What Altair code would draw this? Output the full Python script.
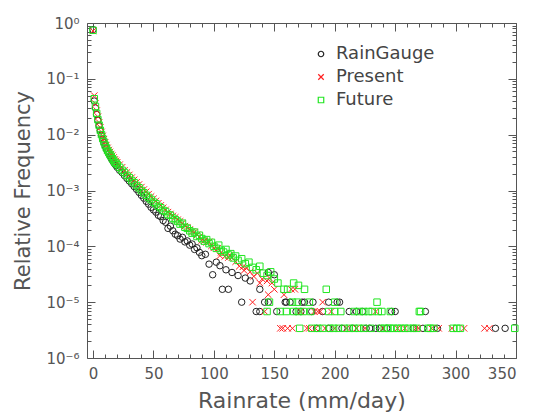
import altair as alt
import pandas as pd

# ---------------- data ----------------
gauge_rain = [0, 1, 2, 3, 4, 5, 6, 7, 8, 9, 10, 11, 12, 13, 14, 15, 16, 17, 18, 19, 20,
              22, 24, 26, 28, 30, 32, 34, 36, 38, 40, 42, 44, 46, 48, 50, 52, 54, 56, 58,
              60, 62, 64, 66, 68, 70, 72, 74, 76, 78, 80, 82, 84, 86, 88, 90, 93, 96, 99,
              102, 105, 107, 110, 112, 115, 120, 123, 126, 130, 135, 138, 138, 142, 145,
              145, 150, 152, 159, 160, 163, 168, 172, 173, 175, 181, 182, 185, 190, 195,
              195, 202, 204, 206, 212, 215, 218, 223, 226, 229, 234, 237, 243, 247, 250,
              265, 273, 275, 285, 333, 341]
gauge_freq = [0.76, 0.040, 0.030, 0.023, 0.0182, 0.0145, 0.0118, 0.0098, 0.0083, 0.0072,
              0.0063, 0.0056, 0.0050, 0.0046, 0.0042, 0.0038, 0.0035, 0.0032, 0.0030, 0.0028,
              0.0026, 0.0023, 0.0021, 0.00185, 0.00165, 0.00148, 0.00132, 0.00118, 0.00105,
              0.00093, 0.00082, 0.00073, 0.00064, 0.00057, 0.00050, 0.00045, 0.00041, 0.00036,
              0.00034, 0.00029, 0.00027, 0.00021, 0.00023, 0.00019, 0.000165, 0.000155,
              0.000135, 0.000145, 0.000120, 0.000125, 0.000105, 0.000110, 0.000088, 0.000094,
              0.000078, 0.000068, 0.000072, 0.000048, 3.1e-5, 5.2e-5, 4.5e-5, 1.7e-5, 3.8e-5,
              1.7e-5, 3.4e-5, 3.0e-5, 1.0e-5, 2.7e-5, 2.4e-5, 6.8e-6, 6.8e-6, 1.7e-5, 1.0e-5,
              1.0e-5, 3.4e-5, 3.1e-5, 6.8e-6, 1.0e-5, 1.0e-5, 1.0e-5, 6.8e-6, 6.8e-6, 1.0e-5,
              1.0e-5, 6.8e-6, 1.0e-5, 3.4e-6, 6.8e-6, 1.0e-5, 3.4e-6, 1.0e-5, 1.0e-5, 3.4e-6,
              6.8e-6, 3.4e-6, 6.8e-6, 6.8e-6, 3.4e-6, 3.4e-6, 3.4e-6, 3.4e-6, 3.4e-6, 6.8e-6,
              6.8e-6, 3.4e-6, 3.4e-6, 6.8e-6, 3.4e-6, 3.4e-6, 3.4e-6]

present_rain = [0, 1, 2, 3, 4, 5, 6, 7, 8, 9, 10, 11, 12, 13, 14, 15, 16, 17, 18, 19, 20,
                22, 24, 26, 28, 30, 32, 34, 36, 38, 40, 42, 44, 46, 48, 50, 52, 54, 56, 58,
                60, 62, 64, 66, 68, 70, 72, 74, 76, 78, 80, 82, 84, 86, 88, 90, 92, 94, 96,
                98, 100, 103, 105, 106, 109, 112, 113, 115, 118, 121, 124, 125, 127, 130,
                133, 136, 138, 140, 144, 146, 148,
                150, 164, 167, 145, 158, 132, 190, 142, 172, 183, 186, 188, 197, 234,
                155, 157, 161, 165, 177, 179, 184, 192, 200, 210, 218, 225, 240, 252, 258,
                267, 269, 280, 286, 297, 307, 324, 328]
present_freq = [0.72, 0.050, 0.036, 0.027, 0.021, 0.0165, 0.0135, 0.0112, 0.0095, 0.0083,
                0.0073, 0.0065, 0.0058, 0.0053, 0.0049, 0.0045, 0.0042, 0.0039, 0.0036, 0.0034,
                0.0032, 0.0029, 0.0026, 0.0023, 0.0021, 0.0019, 0.0017, 0.00155, 0.00140,
                0.00128, 0.00115, 0.00104, 0.00095, 0.00086, 0.00078, 0.00071, 0.00065,
                0.00059, 0.00054, 0.00049, 0.00045, 0.00041, 0.00038, 0.00035, 0.00033,
                0.00030, 0.00028, 0.00026, 0.00023, 0.00022, 0.00020, 0.000185, 0.000180,
                0.000160, 0.000148, 0.000128, 0.000126, 0.000118, 0.000120, 0.000102, 9.4e-5,
                9.2e-5, 6.8e-5, 7.8e-5, 6.6e-5, 6.3e-5, 7.0e-5, 6.3e-5, 5.3e-5, 4.4e-5, 4.3e-5,
                3.7e-5, 4.1e-5, 3.5e-5, 2.9e-5, 3.3e-5, 2.2e-5, 2.6e-5, 2.4e-5, 2.7e-5, 2.2e-5,
                1.7e-5, 1.7e-5, 1.7e-5, 1.36e-5, 1.36e-5, 1.0e-5, 1.0e-5, 6.8e-6, 6.8e-6,
                6.8e-6, 6.8e-6, 6.8e-6, 6.8e-6, 6.8e-6,
                3.4e-6, 3.4e-6, 3.4e-6, 3.4e-6, 3.4e-6, 3.4e-6, 3.4e-6, 3.4e-6, 3.4e-6, 3.4e-6,
                3.4e-6, 3.4e-6, 3.4e-6, 3.4e-6, 3.4e-6, 3.4e-6, 3.4e-6, 3.4e-6, 3.4e-6, 3.4e-6,
                3.4e-6, 3.4e-6, 3.4e-6]

future_rain = [0, 1, 2, 3, 4, 5, 6, 7, 8, 9, 10, 11, 12, 13, 14, 15, 16, 17, 18, 19, 20,
               22, 24, 26, 28, 30, 32, 34, 36, 38, 40, 42, 44, 46, 48, 50, 52, 54, 56, 58,
               60, 62, 64, 66, 68, 70, 72, 74, 76, 78, 80, 82, 84, 86, 88, 90, 92, 94, 96,
               98, 100, 102, 104, 106, 108, 110, 112, 114, 116, 118, 120, 123, 126, 129,
               132, 135, 138, 141, 144, 147, 150, 153,
               158, 161, 175, 193, 166, 170, 146, 165, 169, 179, 200, 235,
               144, 155, 160, 166, 170, 174, 180, 195, 200, 205, 216, 220, 224, 228, 231,
               236, 239, 246, 270, 271,
               171, 181, 186, 190, 196, 199, 203, 208, 212, 216, 220, 224, 230, 238, 241,
               244, 246, 249, 252, 255, 258, 261, 265, 268, 277, 279, 282, 298, 301, 304, 349]
future_freq = [0.74, 0.044, 0.032, 0.024, 0.0186, 0.0148, 0.0120, 0.0100, 0.0085, 0.0074,
               0.0065, 0.0058, 0.0052, 0.0048, 0.0044, 0.0041, 0.0037, 0.0035, 0.0032, 0.0031,
               0.0029, 0.0026, 0.0023, 0.0021, 0.00186, 0.0017, 0.00151, 0.00138, 0.00123,
               0.00112, 0.00100, 0.00091, 0.00082, 0.00075, 0.00069, 0.00062, 0.00058,
               0.00052, 0.00049, 0.00044, 0.00042, 0.00037, 0.00036, 0.00032, 0.00030,
               0.00028, 0.00025, 0.00026, 0.00022, 0.00021, 0.000190, 0.000172, 0.000180,
               0.000150, 0.000158, 0.000138, 0.000124, 0.000132, 0.000112, 0.000118, 1.0e-4,
               9.2e-5, 1.05e-4, 8.5e-5, 7.9e-5, 8.8e-5, 7.0e-5, 7.4e-5, 6.2e-5, 6.7e-5, 5.6e-5,
               6.0e-5, 4.9e-5, 5.2e-5, 4.2e-5, 3.8e-5, 4.4e-5, 3.3e-5, 3.0e-5, 3.5e-5, 2.6e-5,
               2.2e-5,
               1.7e-5, 1.7e-5, 1.7e-5, 1.7e-5, 2.2e-5, 2.0e-5, 1.0e-5, 1.0e-5, 1.0e-5, 1.0e-5,
               1.0e-5, 1.0e-5,
               6.8e-6, 6.8e-6, 6.8e-6, 6.8e-6, 6.8e-6, 6.8e-6, 6.8e-6, 6.8e-6, 6.8e-6, 6.8e-6,
               6.8e-6, 6.8e-6, 6.8e-6, 6.8e-6, 6.8e-6, 6.8e-6, 6.8e-6, 6.8e-6, 6.8e-6, 6.8e-6,
               3.4e-6, 3.4e-6, 3.4e-6, 3.4e-6, 3.4e-6, 3.4e-6, 3.4e-6, 3.4e-6, 3.4e-6, 3.4e-6,
               3.4e-6, 3.4e-6, 3.4e-6, 3.4e-6, 3.4e-6, 3.4e-6, 3.4e-6, 3.4e-6, 3.4e-6, 3.4e-6,
               3.4e-6, 3.4e-6, 3.4e-6, 3.4e-6, 3.4e-6, 3.4e-6, 3.4e-6, 3.4e-6, 3.4e-6, 3.4e-6,
               3.4e-6]

series_names = ["RainGauge", "Present", "Future"]
series_colors = ["#222222", "#ff2020", "#22e622"]
series_shapes = ["circle", "M-1,-1L1,1M-1,1L1,-1", "square"]

x_major = [0, 50, 100, 150, 200, 250, 300, 350]
x_minor = [10, 20, 30, 40, 60, 70, 80, 90, 110, 120, 130, 140, 160, 170, 180, 190,
           210, 220, 230, 240, 260, 270, 280, 290, 310, 320, 330, 340]
y_major = [1e-6, 1e-5, 1e-4, 1e-3, 1e-2, 1e-1, 1.0]
y_minor = [m * d for d in [1e-6, 1e-5, 1e-4, 1e-3, 1e-2, 1e-1] for m in range(2, 10)]

# ---------------- build table ----------------
frames = []
for name, r, f in [("RainGauge", gauge_rain, gauge_freq),
                   ("Present", present_rain, present_freq),
                   ("Future", future_rain, future_freq)]:
    frames.append(pd.DataFrame({"rain": r, "freq": f, "series": name}))
df = pd.concat(frames, ignore_index=True)

FONT = "DejaVu Sans"
GRAY = "#555555"

xs = alt.Scale(domain=[-5, 350], nice=False, zero=False)
ys = alt.Scale(type="log", domain=[1e-6, 1], nice=False)

sup = "['\u2070','\u207b\u00b9','\u207b\u00b2','\u207b\u00b3','\u207b\u2074','\u207b\u2075','\u207b\u2076']"
y_label_expr = "'10' + " + sup + "[round(-log(datum.value)/LN10)]"


def ax(orient, values, size, labels=False, title=None, **kw):
    return alt.Axis(orient=orient, values=values, tickSize=size, offset=-size,
                    domain=False, grid=False, labels=labels, title=title,
                    tickColor=GRAY, tickWidth=1, **kw)


legend = alt.Legend(title=None, orient="none", legendX=225, legendY=22,
                    labelFontSize=18, labelFont=FONT, labelColor="#444444",
                    symbolSize=30, symbolStrokeWidth=1.2, rowPadding=5,
                    labelOffset=6)

points = alt.Chart(df).mark_point(filled=False, size=42, strokeWidth=1, opacity=1).encode(
    x=alt.X("rain:Q", scale=xs,
            axis=ax("bottom", x_major, 8, labels=True, title="Rainrate (mm/day)",
                    labelPadding=8, labelFontSize=15, titleFontSize=22,
                    titlePadding=9)),
    y=alt.Y("freq:Q", scale=ys,
            axis=ax("left", y_major, 8, labels=True, title="Relative Frequency",
                    labelExpr=y_label_expr, labelPadding=8, labelFontSize=15,
                    titleFontSize=21, titlePadding=12)),
    color=alt.Color("series:N", scale=alt.Scale(domain=series_names, range=series_colors),
                    legend=legend),
    shape=alt.Shape("series:N", scale=alt.Scale(domain=series_names, range=series_shapes),
                    legend=legend),
)


def ghost(xaxis, yaxis):
    return alt.Chart(df).mark_point(opacity=0).encode(
        x=alt.X("rain:Q", scale=xs, axis=xaxis),
        y=alt.Y("freq:Q", scale=ys, axis=yaxis),
    )


g1 = ghost(ax("bottom", x_minor, 4), ax("left", y_minor, 4))
g2 = ghost(ax("top", x_major, 8), ax("right", y_major, 8))
g3 = ghost(ax("top", x_minor, 4), ax("right", y_minor, 4))

chart = alt.layer(g1, g2, g3, points).resolve_axis(
    x="independent", y="independent"
).properties(
    width=429, height=335,
    autosize=alt.AutoSizeParams(type="none"),
    padding={"left": 79, "top": 15, "right": 10, "bottom": 62},
).configure_view(
    stroke=GRAY, strokeWidth=1
).configure_axis(
    labelColor=GRAY, titleColor=GRAY, labelFont=FONT, titleFont=FONT,
    titleFontWeight="normal"
)

chart.save("out.html", embed_options={"renderer": "svg", "actions": False})
